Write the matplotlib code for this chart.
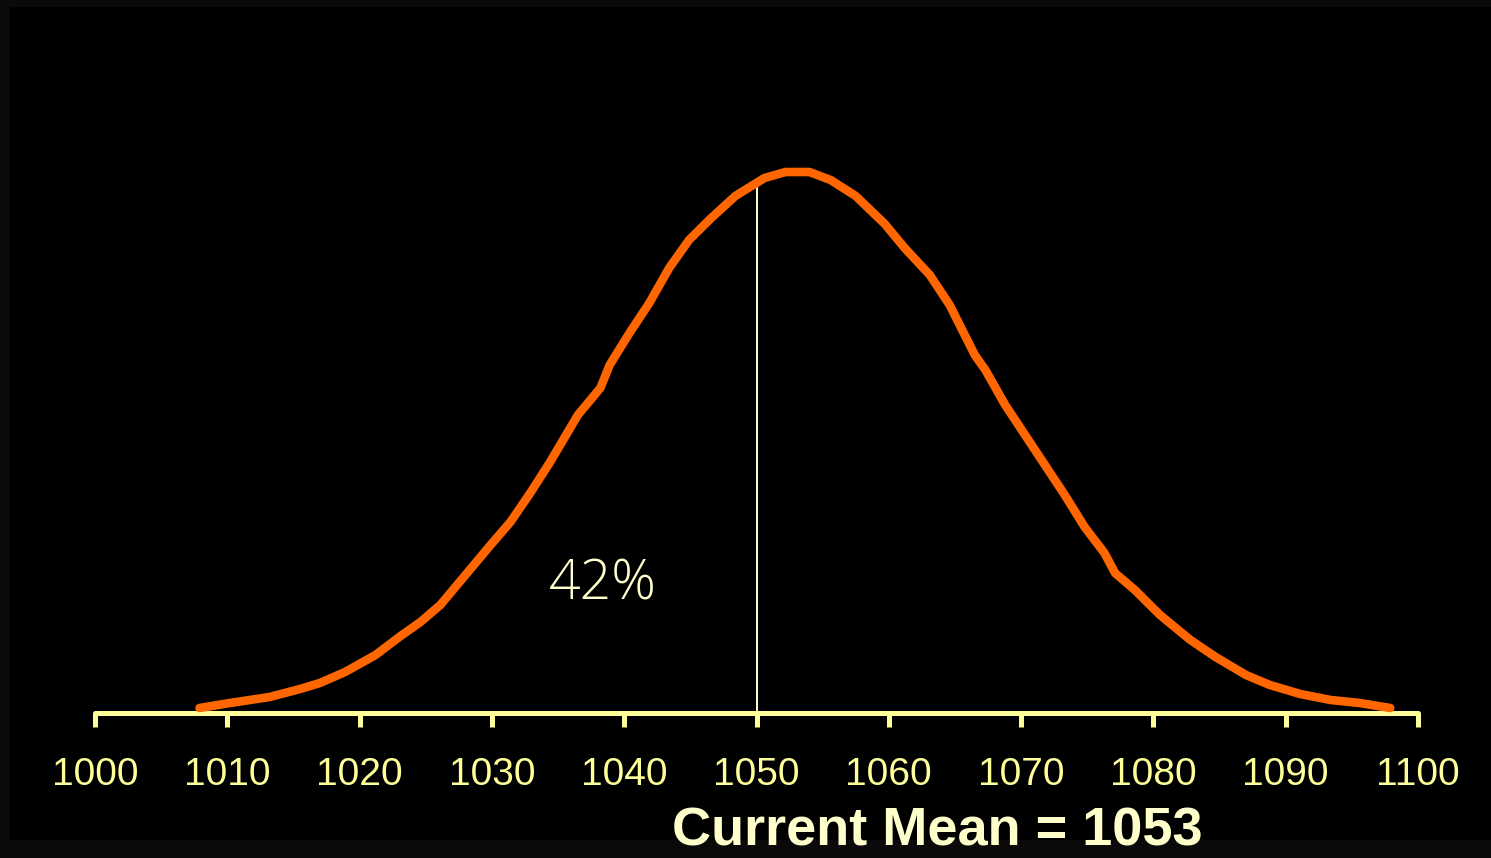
import numpy as np
import matplotlib.pyplot as plt
from matplotlib.patches import Rectangle

# curve (value, height above axis)
xs = [1007.9, 1010.2, 1013.2, 1015.5, 1017.0, 1018.9, 1021.2, 1023.1, 1024.6, 1026.1,
      1028.0, 1029.9, 1031.4, 1032.9, 1034.4, 1036.5, 1038.2, 1038.9, 1040.4, 1041.9,
      1043.4, 1044.9, 1046.5, 1048.4, 1050.6, 1052.2, 1054.0, 1055.6, 1057.5, 1059.7,
      1061.2, 1063.1, 1064.6, 1066.5, 1067.3, 1068.8, 1070.7, 1071.8, 1073.3, 1074.8,
      1076.3, 1077.1, 1078.6, 1080.5, 1082.8, 1084.7, 1087.0, 1088.8, 1091.1, 1093.4,
      1095.6, 1097.9]
hs = [5, 10, 16, 24, 30, 41, 58, 77, 91, 108,
      138, 168, 191, 220, 251, 298, 325, 348, 380, 410,
      445, 473, 494, 517, 535, 541, 541, 533, 517, 489,
      465, 438, 408, 358, 343, 308, 270, 248, 218, 186,
      160, 140, 123, 98, 73, 56, 38, 28, 19, 13,
      10, 5]
ticks = list(range(1000, 1101, 10))
cut = 1050
cut_h = 525
pct_label = '42%'
mean_label = 'Current Mean = 1053'

orange = '#ff6600'
yellow = '#ffff99'
pale = '#ffffcc'

fig = plt.figure(figsize=(14.91, 8.58), dpi=100, facecolor='#0a0a0a')
fig.patches.append(Rectangle((10/1491, 18/858), 1 - 10/1491, 1 - 25/858,
                             transform=fig.transFigure, facecolor='black',
                             edgecolor='none', zorder=-5))

ax = fig.add_axes([95/1491, (858-713)/858, (1418-95)/1491, 613/858])
ax.set_facecolor('none')
ax.set_zorder(2)
ax.set_xlim(1000, 1100)
ax.set_ylim(0, 613)

ax.plot(xs, hs, color=orange, lw=6.2, solid_capstyle='round', solid_joinstyle='round', zorder=3)
ax.plot([cut, cut], [0, cut_h], color=pale, lw=1.4, zorder=2)

for s in ['top', 'right', 'left']:
    ax.spines[s].set_visible(False)
ax.spines['bottom'].set_color(yellow)
ax.spines['bottom'].set_linewidth(3.6)
ax.spines['bottom'].set_capstyle('round')
ax.set_yticks([])
ax.set_xticks(ticks)
ax.set_xticklabels([str(t) for t in ticks])
ax.tick_params(axis='x', colors=yellow, length=10, width=3.6, pad=22,
               labelsize=28, labelcolor=yellow)
for t in ax.xaxis.get_major_ticks():
    t.tick1line.set_solid_capstyle('round')
for lab in ax.get_xticklabels():
    lab.set_fontfamily(['Liberation Sans', 'DejaVu Sans'])

ax.text(1038.4, 113, pct_label, color=pale, fontsize=40,
        fontweight='light', family=['Open Sans', 'Lato', 'DejaVu Sans'],
        ha='center', va='baseline')

fig.text(937/1491, 2/858, mean_label, color=pale, fontsize=39, fontweight='bold',
         family=['Liberation Sans', 'DejaVu Sans'],
         ha='center', va='bottom')

fig.savefig('out.png', dpi=100, facecolor=fig.get_facecolor())
